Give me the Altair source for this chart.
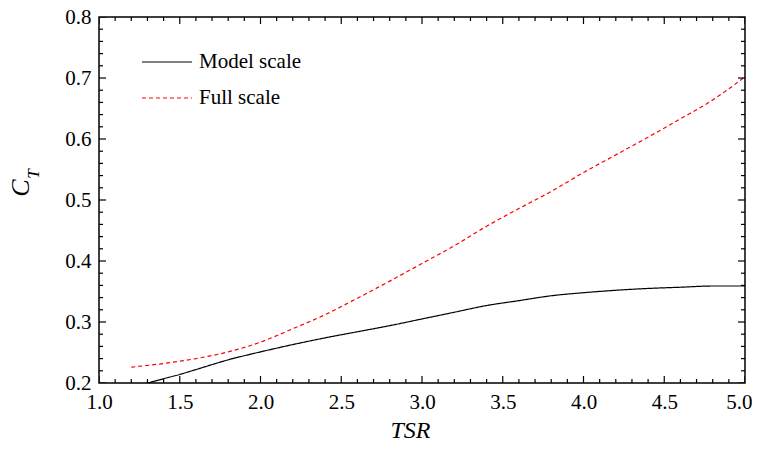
import altair as alt
import pandas as pd

# ---- data ----
tsr_model = [1.2, 1.3, 1.4, 1.5, 1.6, 1.8, 2.0, 2.2, 2.4, 2.6, 2.8, 3.0, 3.2, 3.4, 3.6, 3.8, 4.0, 4.2, 4.4, 4.6, 4.8, 5.0]
ct_model = [0.194, 0.200, 0.207, 0.214, 0.222, 0.238, 0.251, 0.263, 0.274, 0.284, 0.294, 0.305, 0.316, 0.327, 0.335, 0.343, 0.348, 0.352, 0.355, 0.357, 0.359, 0.359]

tsr_full = [1.2, 1.4, 1.6, 1.8, 2.0, 2.2, 2.4, 2.6, 2.8, 3.0, 3.2, 3.4, 3.6, 3.8, 4.0, 4.2, 4.4, 4.6, 4.8, 5.0]
ct_full = [0.226, 0.232, 0.240, 0.251, 0.267, 0.289, 0.312, 0.339, 0.367, 0.396, 0.425, 0.457, 0.486, 0.514, 0.545, 0.574, 0.603, 0.633, 0.664, 0.702]

series_names = ["Model scale", "Full scale"]
series_colors = ["#000000", "#ff0000"]

x_major = [1.0, 1.5, 2.0, 2.5, 3.0, 3.5, 4.0, 4.5, 5.0]
x_minor = [1.1, 1.2, 1.3, 1.4, 1.6, 1.7, 1.8, 1.9, 2.1, 2.2, 2.3, 2.4, 2.6, 2.7, 2.8, 2.9,
           3.1, 3.2, 3.3, 3.4, 3.6, 3.7, 3.8, 3.9, 4.1, 4.2, 4.3, 4.4, 4.6, 4.7, 4.8, 4.9]
y_major = [0.2, 0.3, 0.4, 0.5, 0.6, 0.7, 0.8]
y_minor = [0.22, 0.24, 0.26, 0.28, 0.32, 0.34, 0.36, 0.38, 0.42, 0.44, 0.46, 0.48,
           0.52, 0.54, 0.56, 0.58, 0.62, 0.64, 0.66, 0.68, 0.72, 0.74, 0.76, 0.78]

FONT = "Liberation Serif"
W, H = 646, 366

df = pd.concat([
    pd.DataFrame({"TSR": tsr_model, "CT": ct_model, "series": series_names[0], "o": range(len(tsr_model))}),
    pd.DataFrame({"TSR": tsr_full, "CT": ct_full, "series": series_names[1], "o": range(len(tsr_full))}),
])

xscale = alt.Scale(domain=[1.0, 5.0], nice=False, zero=False)
yscale = alt.Scale(domain=[0.2, 0.8], nice=False, zero=False)

x_axis = alt.Axis(values=x_major, format=".1f", labelPadding=8, title="TSR",
                  labelAlign=alt.ExprRef(expr="datum.value >= 4.99 ? 'right' : 'center'"),
                  labelOffset=alt.ExprRef(expr="datum.value >= 4.99 ? 7 : 0"),
                  titleFontStyle="italic", titleFontSize=24, titlePadding=6, titleX=311)
y_axis = alt.Axis(values=y_major, format=".1f", labelPadding=8, title=None)

leg = alt.Legend(title=None, orient="none", legendX=42, legendY=19,
                 symbolType="stroke", symbolSize=2500, symbolStrokeWidth=1.2,
                 labelFont=FONT, labelFontSize=21, labelColor="black",
                 rowPadding=-16, labelOffset=6)

lines = alt.Chart(df).mark_line(clip=True, strokeWidth=1.2, interpolate="monotone").encode(
    x=alt.X("TSR:Q", scale=xscale, axis=x_axis),
    y=alt.Y("CT:Q", scale=yscale, axis=y_axis),
    color=alt.Color("series:N", scale=alt.Scale(domain=series_names, range=series_colors), legend=leg),
    strokeDash=alt.StrokeDash("series:N", scale=alt.Scale(domain=series_names, range=[[1, 0], [4, 3]]),
                              legend=leg),
    order="o:Q",
)

xmaj = pd.DataFrame({"TSR": x_major})
xmin = pd.DataFrame({"TSR": x_minor})
ymaj = pd.DataFrame({"CT": y_major})
ymin = pd.DataFrame({"CT": y_minor})

def xticks(d, size, ypos):
    return alt.Chart(d).mark_tick(clip=True, size=size, thickness=1.2, color="black", opacity=1,
                                  orient="vertical").encode(
        x=alt.X("TSR:Q", scale=xscale, axis=x_axis), y=alt.value(ypos))

def yticks(d, size, xpos):
    return alt.Chart(d).mark_tick(clip=True, size=size, thickness=1.2, color="black", opacity=1,
                                  orient="horizontal").encode(
        y=alt.Y("CT:Q", scale=yscale, axis=y_axis), x=alt.value(xpos))

ticks = [
    xticks(xmaj, 14, H), xticks(xmin, 8, H), xticks(xmaj, 14, 0), xticks(xmin, 8, 0),
    yticks(ymaj, 14, 0), yticks(ymin, 8, 0), yticks(ymaj, 14, W), yticks(ymin, 8, W),
]

ytitle_c = alt.Chart(pd.DataFrame({"t": ["C"]})).mark_text(
    font=FONT, fontSize=26, fontStyle="italic", angle=270, color="black", baseline="alphabetic", align="center"
).encode(x=alt.value(-70), y=alt.value(171), text="t:N")
ytitle_t = alt.Chart(pd.DataFrame({"t": ["T"]})).mark_text(
    font=FONT, fontSize=17, fontStyle="italic", angle=270, color="black", baseline="alphabetic", align="center"
).encode(x=alt.value(-60), y=alt.value(157), text="t:N")

chart = alt.layer(lines, *ticks, ytitle_c, ytitle_t).properties(
    width=W, height=H,
    background="white",
    autosize=alt.AutoSizeParams(type="none"),
    padding={"left": 91, "top": 9, "right": 7, "bottom": 62},
).configure_view(
    stroke="black", strokeWidth=1.5, strokeOpacity=1
).configure_axis(
    ticks=False, domain=False, grid=False,
    labelFont=FONT, labelFontSize=21, labelColor="black",
    labelFlush=False, labelOverlap=False,
    titleFont=FONT, titleFontWeight="normal", titleColor="black",
)

chart.save("out.html", embed_options={"renderer": "svg", "actions": False})
